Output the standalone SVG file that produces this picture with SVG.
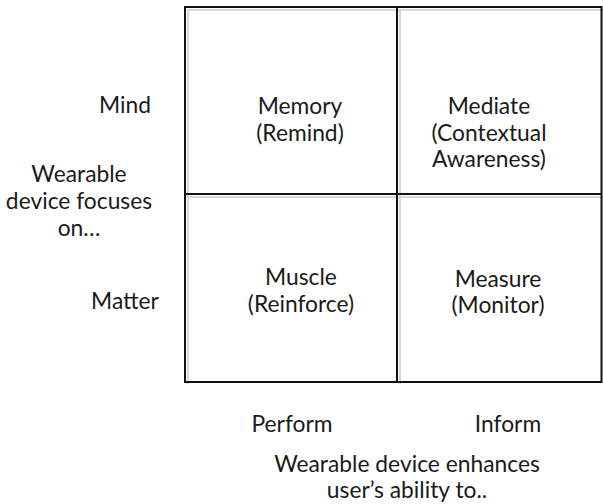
<svg xmlns="http://www.w3.org/2000/svg" width="603" height="504" viewBox="0 0 603 504">
<style>
  text { font-family: Lato, "Open Sans", "Liberation Sans", sans-serif; font-size: 22.8px; fill: #1a1a1a; text-anchor: middle; }
  .grid { stroke: #111; stroke-width: 2; fill: none; }
  .shadow { stroke: #d8d8d8; stroke-width: 2; fill: none; }
</style>
<rect width="603" height="504" fill="#fff"/>
<g id="connectors">
  <path class="shadow" d="M187 10 H603 M187 197 H603 M188 9 V384 M400 9 V384"/>
  <rect class="grid" x="185" y="7" width="416.5" height="375"/>
  <line class="grid" x1="397" y1="7" x2="397" y2="382"/>
  <line class="grid" x1="185" y1="194" x2="601.5" y2="194"/>
</g>
<g id="memory"><text x="300" y="114">Memory</text><text x="300" y="141">(Remind)</text></g>
<g id="mediate"><text x="489" y="114">Mediate</text><text x="489" y="141">(Contextual</text><text x="489" y="167">Awareness)</text></g>
<g id="muscle"><text x="301" y="285">Muscle</text><text x="301" y="312">(Reinforce)</text></g>
<g id="measure"><text x="498" y="287">Measure</text><text x="498" y="313">(Monitor)</text></g>
<g id="mind"><text x="125" y="113">Mind</text></g>
<g id="focus"><text x="79" y="182">Wearable</text><text x="79" y="209">device focuses</text><text x="79" y="236">on…</text></g>
<g id="matter"><text x="125" y="309">Matter</text></g>
<g id="perform"><text x="292" y="432">Perform</text></g>
<g id="inform"><text x="508" y="432">Inform</text></g>
<g id="enhances"><text x="407" y="472">Wearable device enhances</text><text x="407" y="498">user’s ability to..</text></g>
</svg>
